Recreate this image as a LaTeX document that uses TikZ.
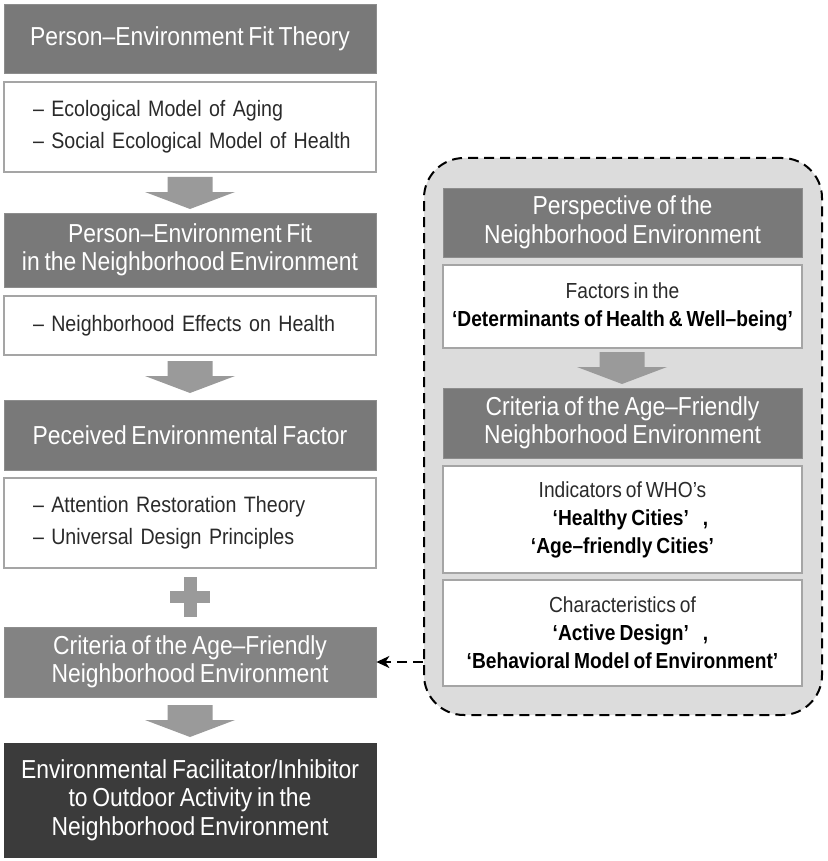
\documentclass[tikz,border=0pt]{standalone}
\usepackage{fontspec}
\setmainfont{Liberation Sans}[FakeStretch=0.88,WordSpace=0.75]
\usetikzlibrary{arrows.meta}
\definecolor{headgray}{HTML}{797979}
\definecolor{critgray}{HTML}{838383}
\definecolor{darkbox}{HTML}{3B3B3B}
\definecolor{linegray}{HTML}{A5A5A5}
\definecolor{arrowgray}{HTML}{9A9A9A}
\definecolor{panelgray}{HTML}{DCDCDC}
\definecolor{textgray}{HTML}{2A2A2A}
\begin{document}
\begin{tikzpicture}[x=1pt,y=-1pt,
  head/.style={rectangle,fill=headgray,draw=headgray!85,line width=0.8pt,text=white,
    minimum width=372pt,inner sep=0pt,align=center,font=\fontsize{26}{28.5}\selectfont},
  list/.style={rectangle,fill=white,draw=linegray,line width=1.3pt,text=textgray,
    text width=314pt,inner xsep=29pt,inner ysep=0pt,align=left,font=\fontsize{22.3}{32}\selectfont},
  inhead/.style={head,minimum width=359pt},
  inbox/.style={rectangle,fill=white,draw=linegray,line width=1.3pt,text=textgray,
    minimum width=359pt,inner sep=0pt,align=center,font=\fontsize{21.8}{28}\selectfont},
  panel/.style={rectangle,fill=panelgray,draw=black,line width=2pt,dash pattern=on 10pt off 6pt,
    rounded corners=40pt,minimum width=398pt,minimum height=557pt},
  dashline/.style={draw=black,line width=2pt,dash pattern=on 10pt off 6pt},
  blockarrow/.pic={\fill[arrowgray] (-22.5,0) -- (22.5,0) -- (22.5,15) -- (45,15) -- (0,32)
    -- (-45,15) -- (-22.5,15) -- cycle;},
  plussign/.pic={\fill[arrowgray] (-6.5,-20) rectangle (6.5,20); \fill[arrowgray] (-20,-6) rectangle (20,6);}
]
\useasboundingbox (0,0) rectangle (827,861);

\node[head, minimum height=69pt] (theory) at (190,38.5) {Person–Environment Fit Theory};
\node[list, minimum height=90pt] (models) at (190,127) {\mbox{– Ecological Model of Aging}\\ \mbox{– Social Ecological Model of Health}};
\pic at (190,177) {blockarrow};
\node[head, minimum height=74pt] (fit) at (190,250) {Person–Environment Fit\\ in the Neighborhood Environment};
\node[list, minimum height=59pt] (effects) at (190,325.5) {\mbox{– Neighborhood Effects on Health}};
\pic at (190,361) {blockarrow};
\node[head, minimum height=70pt] (perceived) at (190,435) {Peceived Environmental Factor};
\node[list, minimum height=90pt] (theories) at (190,523) {\mbox{– Attention Restoration Theory}\\ \mbox{– Universal Design Principles}};
\pic at (190,597) {plussign};
\node[head, fill=critgray, minimum height=70pt] (criteria) at (190,662) {Criteria of the Age–Friendly\\ Neighborhood Environment};
\pic at (190,705) {blockarrow};
\node[head, fill=darkbox, draw=darkbox, minimum height=114pt] (outcome) at (190,800) {Environmental Facilitator/Inhibitor\\ to Outdoor Activity in the\\ Neighborhood Environment};

\node[panel] (panel) at (623,436.5) {};
\node[inhead, minimum height=69pt] (perspective) at (622.5,222.5) {Perspective of the\\ Neighborhood Environment};
\node[inbox, minimum height=83pt] (determinants) at (622.5,306.5) {Factors in the\\ \textcolor{black}{\textbf{‘Determinants of Health \& Well–being’}}};
\pic at (622,352) {blockarrow};
\node[inhead, minimum height=70pt] (agefriendly) at (622.5,423) {Criteria of the Age–Friendly\\ Neighborhood Environment};
\node[inbox, minimum height=107pt] (who) at (622.5,519.5) {Indicators of WHO’s\\ \textcolor{black}{\textbf{\hspace{16pt}‘Healthy Cities’\hspace{14pt},}}\\ \textcolor{black}{\textbf{‘Age–friendly Cities’}}};
\node[inbox, minimum height=106pt] (design) at (622.5,633) {Characteristics of\\ \textcolor{black}{\textbf{\hspace{16pt}‘Active Design’\hspace{14pt},}}\\ \textcolor{black}{\textbf{‘Behavioral Model of Environment’}}};

\draw[dashline,-{Stealth[length=13pt,width=12pt,inset=4pt]}] (panel.west |- criteria.east) -- (criteria.east);
\end{tikzpicture}
\end{document}
